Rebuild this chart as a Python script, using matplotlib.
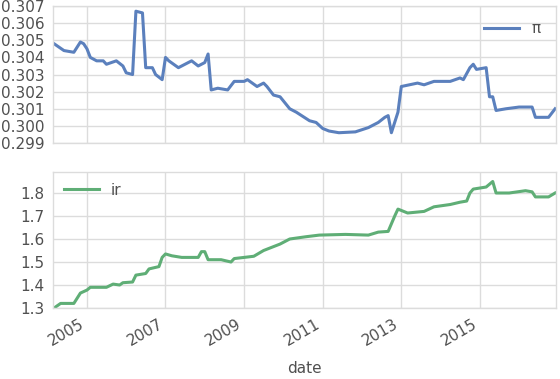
import matplotlib
matplotlib.use("Agg")
import matplotlib.pyplot as plt
import pandas as pd

pi_dates = ["2004-03", "2004-06", "2004-09", "2004-11", "2004-12", "2005-01", "2005-02",
            "2005-04", "2005-06", "2005-07", "2005-10", "2005-12", "2006-01", "2006-03",
            "2006-04", "2006-06", "2006-07", "2006-09", "2006-10", "2006-12", "2007-01",
            "2007-02", "2007-05", "2007-08", "2007-09", "2007-11", "2008-01", "2008-02",
            "2008-03", "2008-05", "2008-08", "2008-10", "2009-01", "2009-02", "2009-05",
            "2009-07", "2009-08", "2009-10", "2009-12", "2010-03", "2010-05", "2010-09",
            "2010-11", "2011-01", "2011-03", "2011-06", "2011-11", "2012-03", "2012-06",
            "2012-08", "2012-09", "2012-10", "2012-12", "2013-01", "2013-06", "2013-08",
            "2013-11", "2014-04", "2014-07", "2014-08", "2014-10", "2014-11", "2014-12",
            "2015-03", "2015-04", "2015-05", "2015-06", "2015-09", "2016-01", "2016-05",
            "2016-06", "2016-10", "2016-12"]
pi_values = [0.3048, 0.3044, 0.3043, 0.3049, 0.3048, 0.3045, 0.3040,
             0.3038, 0.3038, 0.3036, 0.3038, 0.3035, 0.3031, 0.3030,
             0.3067, 0.3066, 0.3034, 0.3034, 0.3030, 0.3027, 0.3040,
             0.3038, 0.3034, 0.3037, 0.3038, 0.3035, 0.3037, 0.3042,
             0.3021, 0.3022, 0.3021, 0.3026, 0.3026, 0.3027, 0.3023,
             0.3025, 0.3023, 0.3018, 0.3017, 0.3010, 0.3008, 0.3003,
             0.3002, 0.29985, 0.2997, 0.2996, 0.29965, 0.2999, 0.3002,
             0.3005, 0.3006, 0.2996, 0.3008, 0.3023, 0.3025, 0.3024,
             0.3026, 0.3026, 0.3028, 0.3027, 0.3034, 0.3036, 0.3033,
             0.3034, 0.3017, 0.3017, 0.3009, 0.3010, 0.3011, 0.3011,
             0.3005, 0.3005, 0.3010]

ir_dates = ["2004-03", "2004-05", "2004-09", "2004-11", "2005-01", "2005-02", "2005-07",
            "2005-09", "2005-11", "2005-12", "2006-03", "2006-04", "2006-07", "2006-08",
            "2006-11", "2006-12", "2007-01", "2007-03", "2007-06", "2007-11", "2007-12",
            "2008-01", "2008-02", "2008-06", "2008-09", "2008-10", "2009-01", "2009-04",
            "2009-07", "2009-12", "2010-03", "2010-08", "2010-12", "2011-08", "2012-03",
            "2012-06", "2012-09", "2012-11", "2012-12", "2013-03", "2013-08", "2013-11",
            "2014-04", "2014-07", "2014-09", "2014-10", "2014-11", "2015-03", "2015-05",
            "2015-06", "2015-10", "2016-03", "2016-05", "2016-06", "2016-10", "2016-12"]
ir_values = [1.30, 1.32, 1.32, 1.365, 1.378, 1.39, 1.39,
             1.404, 1.40, 1.41, 1.413, 1.443, 1.45, 1.47,
             1.48, 1.52, 1.535, 1.527, 1.52, 1.52, 1.545,
             1.545, 1.51, 1.51, 1.50, 1.515, 1.52, 1.525,
             1.55, 1.578, 1.60, 1.61, 1.617, 1.62, 1.617,
             1.63, 1.633, 1.70, 1.73, 1.713, 1.72, 1.74,
             1.75, 1.76, 1.765, 1.80, 1.817, 1.826, 1.85,
             1.80, 1.80, 1.81, 1.805, 1.783, 1.783, 1.80]

x_tick_years = ["2005", "2007", "2009", "2011", "2013", "2015"]
pi_y_ticks = [0.299, 0.300, 0.301, 0.302, 0.303, 0.304, 0.305, 0.306, 0.307]
ir_y_ticks = [1.3, 1.4, 1.5, 1.6, 1.7, 1.8]

plt.rcParams['font.family'] = ['DejaVu Sans']
text_color = '#505050'
grid_color = '#dcdcdc'

fig = plt.figure(figsize=(5.6, 3.79), dpi=100)
ax1 = fig.add_axes([0.0946, 0.6227, 0.8984, 0.3613])
ax2 = fig.add_axes([0.0946, 0.1873, 0.8984, 0.3587], sharex=ax1)

x1 = pd.to_datetime(pi_dates)
x2 = pd.to_datetime(ir_dates)
ax1.plot(x1, pi_values, color='#5b80bd', lw=2.2, label='π')
ax2.plot(x2, ir_values, color='#5fae76', lw=2.2, label='ir')

ax1.set_ylim(0.299, 0.307)
ax1.set_yticks(pi_y_ticks)
ax1.set_yticklabels([f"{v:.3f}" for v in pi_y_ticks])
ax2.set_ylim(1.3, 1.891)
ax2.set_yticks(ir_y_ticks)
ax2.set_yticklabels([f"{v:.1f}" for v in ir_y_ticks])

ax1.set_xlim(pd.Timestamp("2004-02-20"), pd.Timestamp("2016-12-10"))
tick_pos = pd.to_datetime([y + "-01-01" for y in x_tick_years])
ax2.set_xticks(tick_pos)
ax2.set_xticklabels(x_tick_years)

for ax in (ax1, ax2):
    ax.grid(True, color=grid_color, lw=1.0)
    ax.set_axisbelow(True)
    for s in ax.spines.values():
        s.set_color(grid_color)
        s.set_linewidth(1.0)
    ax.tick_params(axis='both', length=0, labelsize=11, colors=text_color, pad=6)

plt.setp(ax1.get_xticklabels(), visible=False)
for lab in ax2.get_xticklabels():
    lab.set_rotation(30)
    lab.set_ha('right')
ax2.set_xlabel('date', fontsize=11, color=text_color, labelpad=9)

l1 = ax1.legend(loc='upper right', frameon=False, fontsize=11, handlelength=2.3,
                borderaxespad=0.6)
l2 = ax2.legend(loc='upper left', frameon=False, fontsize=11, handlelength=2.3,
                borderaxespad=0.3)
for l in (l1, l2):
    for t in l.get_texts():
        t.set_color(text_color)

fig.savefig('out.png', dpi=100)
